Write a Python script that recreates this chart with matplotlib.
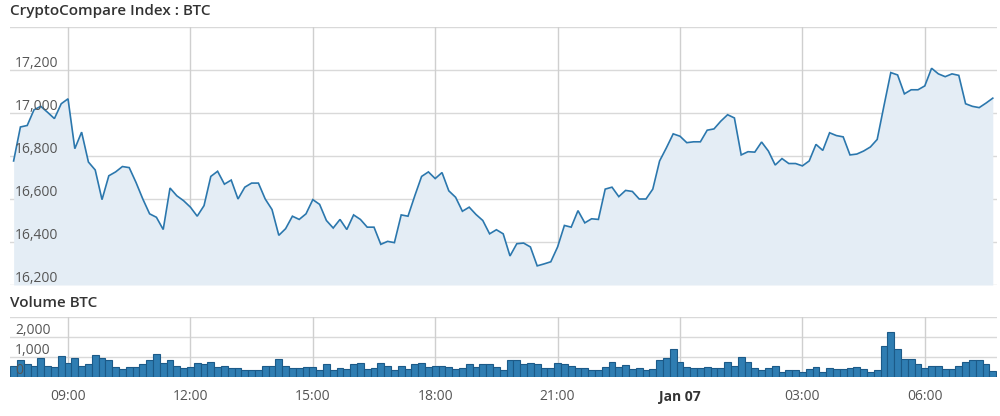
import matplotlib
matplotlib.use("Agg")
import matplotlib.pyplot as plt
import matplotlib.transforms as mtransforms
import numpy as np

# ---- data -------------------------------------------------------------
start_hour = 7 + 40 / 60          # 07:40, Jan 06
step_hours = 10 / 60              # 10-minute samples

price = [
    16777, 16935, 16942, 17015, 17031, 17003, 16974, 17043, 17066, 16834,
    16911, 16772, 16735, 16597, 16708, 16726, 16751, 16746, 16677, 16600,
    16531, 16515, 16458, 16651, 16615, 16592, 16562, 16520, 16569, 16705,
    16729, 16669, 16688, 16600, 16655, 16674, 16674, 16600, 16551, 16431,
    16462, 16520, 16505, 16531, 16597, 16575, 16500, 16465, 16505, 16458,
    16526, 16505, 16469, 16469, 16389, 16403, 16397, 16526, 16520, 16615,
    16705, 16726, 16695, 16723, 16638, 16608, 16543, 16562, 16528, 16500,
    16438, 16457, 16438, 16335, 16392, 16395, 16377, 16289, 16298, 16308,
    16377, 16477, 16469, 16546, 16489, 16508, 16505, 16646, 16655, 16611,
    16640, 16635, 16600, 16600, 16646, 16777, 16838, 16903, 16892, 16862,
    16866, 16866, 16920, 16926, 16962, 16992, 16977, 16805, 16820, 16818,
    16865, 16823, 16758, 16788, 16765, 16765, 16754, 16777, 16854, 16826,
    16908, 16895, 16889, 16805, 16809, 16823, 16842, 16877, 17034, 17188,
    17177, 17089, 17108, 17108, 17126, 17208, 17182, 17169, 17182, 17175,
    17043, 17031, 17025, 17046, 17069,
]

volume = [
    567, 850, 633, 567, 967, 567, 500, 1033, 700, 967,
    567, 633, 1100, 967, 833, 500, 400, 500, 500, 633,
    850, 1133, 683, 850, 567, 467, 500, 683, 633, 733,
    500, 567, 467, 467, 367, 367, 367, 567, 567, 900,
    567, 433, 433, 517, 517, 333, 633, 333, 467, 400,
    633, 683, 400, 467, 683, 533, 333, 533, 400, 633,
    683, 517, 567, 567, 517, 400, 467, 633, 517, 633,
    633, 500, 333, 867, 867, 633, 683, 633, 467, 467,
    683, 633, 567, 467, 467, 333, 333, 517, 767, 517,
    600, 400, 467, 333, 400, 850, 967, 1400, 767, 517,
    467, 467, 517, 433, 467, 767, 567, 1017, 767, 433,
    333, 433, 567, 267, 333, 333, 267, 383, 517, 267,
    450, 383, 383, 450, 517, 383, 267, 333, 1550, 2233,
    1417, 900, 900, 633, 450, 567, 567, 400, 400, 567,
    750, 833, 833, 633, 300,
]

x_tick_hours = [9, 12, 15, 18, 21, 24, 27, 30]
x_tick_labels = ["09:00", "12:00", "15:00", "18:00", "21:00", "Jan 07", "03:00", "06:00"]
price_grid = [16200, 16400, 16600, 16800, 17000, 17200, 17400]
price_labels = [16200, 16400, 16600, 16800, 17000, 17200]
vol_grid = [0, 1000, 2000, 3000]
vol_labels = [0, 1000, 2000]

title_price = "CryptoCompare Index : BTC"
title_volume = "Volume BTC"

# ---- style ------------------------------------------------------------
plt.rcParams["font.family"] = ["Open Sans", "DejaVu Sans"]
LINE = "#2b77ad"
FILL = "#e4edf5"
BAR = "#2f7db2"
BAR_EDGE = "#1c5a88"
GRID = "#d9d9d9"
VGRID = "#cfcfcf"
TXT = "#555555"
TITLE = "#333333"

t = start_hour + step_hours * np.arange(len(price))
xlim = (7.578, 31.77)

W, H = 1000, 416
fig = plt.figure(figsize=(W / 100, H / 100), dpi=100)

def frac_rect(left, top, right, bottom):
    return [left / W, 1 - bottom / H, (right - left) / W, (bottom - top) / H]

ax = fig.add_axes(frac_rect(10, 27, 997, 285))
axv = fig.add_axes(frac_rect(10, 317, 997, 377))

for a in (ax, axv):
    for s in a.spines.values():
        s.set_visible(False)
    a.set_xlim(*xlim)
    a.tick_params(length=0)
    a.set_yticks([])
    for h in x_tick_hours:
        a.axvline(h, color=VGRID, lw=1, zorder=0.5)

# price panel
ax.set_ylim(16200, 17400)
for g in price_grid:
    ax.axhline(g, color=GRID, lw=1, zorder=0.4)
ax.fill_between(t, price, 16200, color=FILL, zorder=1, lw=0)
ax.plot(t, price, color=LINE, lw=1.2, zorder=3, solid_joinstyle="miter")
ax.set_xticks([])
off = mtransforms.offset_copy(ax.get_yaxis_transform(), fig=fig, x=0, y=2.5, units="dots")
lab_x = 5 / 987
for v in price_labels:
    ax.text(lab_x, v, f"{v:,}", transform=off, ha="left", va="baseline",
            fontsize=10, color=TXT, zorder=4)

# volume panel
axv.set_ylim(0, 3000)
for g in vol_grid:
    axv.axhline(g, color=GRID, lw=1, zorder=0.4)
axv.bar(t, volume, width=step_hours, color=BAR, edgecolor=BAR_EDGE, lw=0.8, zorder=2)
offv = mtransforms.offset_copy(axv.get_yaxis_transform(), fig=fig, x=0, y=3, units="dots")
for v in vol_labels:
    axv.text(lab_x, v, f"{v:,}", transform=offv, ha="left", va="baseline",
             fontsize=10, color=TXT, zorder=5)
axv.set_xticks(x_tick_hours)
axv.set_xticklabels(x_tick_labels, fontsize=10, color=TXT)
axv.tick_params(axis="x", pad=9)
for lbl in axv.get_xticklabels():
    if lbl.get_text() == "Jan 07":
        lbl.set_fontweight("bold")
        lbl.set_color(TITLE)

fig.text(10 / W, 1 - 15 / H, title_price, ha="left", va="baseline",
         fontsize=11, fontweight="semibold", color=TITLE)
fig.text(10 / W, 1 - 307 / H, title_volume, ha="left", va="baseline",
         fontsize=11, fontweight="semibold", color=TITLE)

fig.savefig("out.png", dpi=100)
